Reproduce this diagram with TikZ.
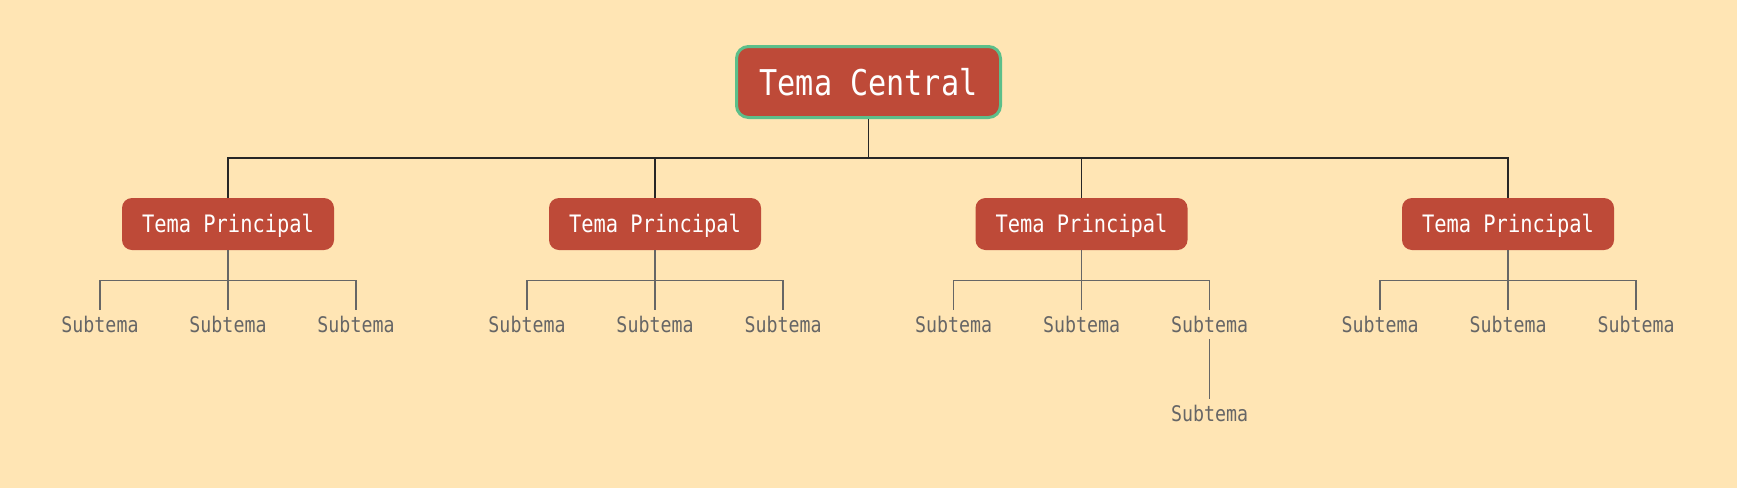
\documentclass[tikz,border=0pt]{standalone}
\usepackage{fontspec}
\newfontfamily\mapfont[FakeStretch=0.85]{DejaVu Sans Mono}
\usepackage{tikz}
\usetikzlibrary{positioning}
\definecolor{paper}{HTML}{FFE5B4}
\definecolor{brick}{HTML}{BE4A38}
\definecolor{mint}{HTML}{5CBF8A}
\definecolor{slate}{HTML}{666666}
\tikzset{
  central/.style={draw=mint,line width=3pt,fill=brick,rounded corners=12pt,
    minimum width=264pt,minimum height=71pt,inner sep=0pt,text=white,
    font=\mapfont\fontsize{35.5}{40}\selectfont,text height=26pt,text depth=0pt},
  principal/.style={fill=brick,rounded corners=10pt,minimum width=212pt,
    minimum height=52pt,inner sep=0pt,text=white,
    font=\mapfont\fontsize{24}{28}\selectfont,text height=17.5pt,text depth=0pt},
  subtema/.style={anchor=base,inner sep=0pt,text=slate,
    font=\mapfont\fontsize{21.5}{25}\selectfont,text height=22pt,text depth=7pt},
  topline/.style={line width=1.3pt,black!85},
  subline/.style={line width=1.2pt,slate}
}

\begin{document}
\begin{tikzpicture}[x=1pt,y=-1pt]
  \fill[paper] (0,0) rectangle (1737,488);
  \useasboundingbox (0,0) rectangle (1737,488);
  % centre and main branches
  \node[central] (centro) at (868.5,82) {Tema Central};
  \node[principal] (p1) at (228,224) {Tema Principal};
  \node[principal] (p2) at (655,224) {Tema Principal};
  \node[principal] (p3) at (1081.5,224) {Tema Principal};
  \node[principal] (p4) at (1508,224) {Tema Principal};
  \draw[topline] (centro.south) -- ++(0,39) -| (p1.north);
  \draw[topline] (centro.south) -- ++(0,39) -| (p2.north);
  \draw[topline] (centro.south) -- ++(0,39) -| (p3.north);
  \draw[topline] (centro.south) -- ++(0,39) -| (p4.north);
  % subtopics
  \node[subtema] (s11) at (100,332) {Subtema};
  \node[subtema] (s12) at (228,332) {Subtema};
  \node[subtema] (s13) at (356,332) {Subtema};
  \node[subtema] (s21) at (527,332) {Subtema};
  \node[subtema] (s22) at (655,332) {Subtema};
  \node[subtema] (s23) at (783,332) {Subtema};
  \node[subtema] (s31) at (953.5,332) {Subtema};
  \node[subtema] (s32) at (1081.5,332) {Subtema};
  \node[subtema] (s33) at (1209.5,332) {Subtema};
  \node[subtema] (s34) at (1209.5,421) {Subtema};
  \node[subtema] (s41) at (1380,332) {Subtema};
  \node[subtema] (s42) at (1508,332) {Subtema};
  \node[subtema] (s43) at (1636,332) {Subtema};
  \draw[subline] (p1.south) -- ++(0,30) -| (s11.north);
  \draw[subline] (p1.south) -- (s12.north);
  \draw[subline] (p1.south) -- ++(0,30) -| (s13.north);
  \draw[subline] (p2.south) -- ++(0,30) -| (s21.north);
  \draw[subline] (p2.south) -- (s22.north);
  \draw[subline] (p2.south) -- ++(0,30) -| (s23.north);
  \draw[subline] (p3.south) -- ++(0,30) -| (s31.north);
  \draw[subline] (p3.south) -- (s32.north);
  \draw[subline] (p3.south) -- ++(0,30) -| (s33.north);
  \draw[subline] (s33.south) -- (s34.north);
  \draw[subline] (p4.south) -- ++(0,30) -| (s41.north);
  \draw[subline] (p4.south) -- (s42.north);
  \draw[subline] (p4.south) -- ++(0,30) -| (s43.north);
\end{tikzpicture}
\end{document}
